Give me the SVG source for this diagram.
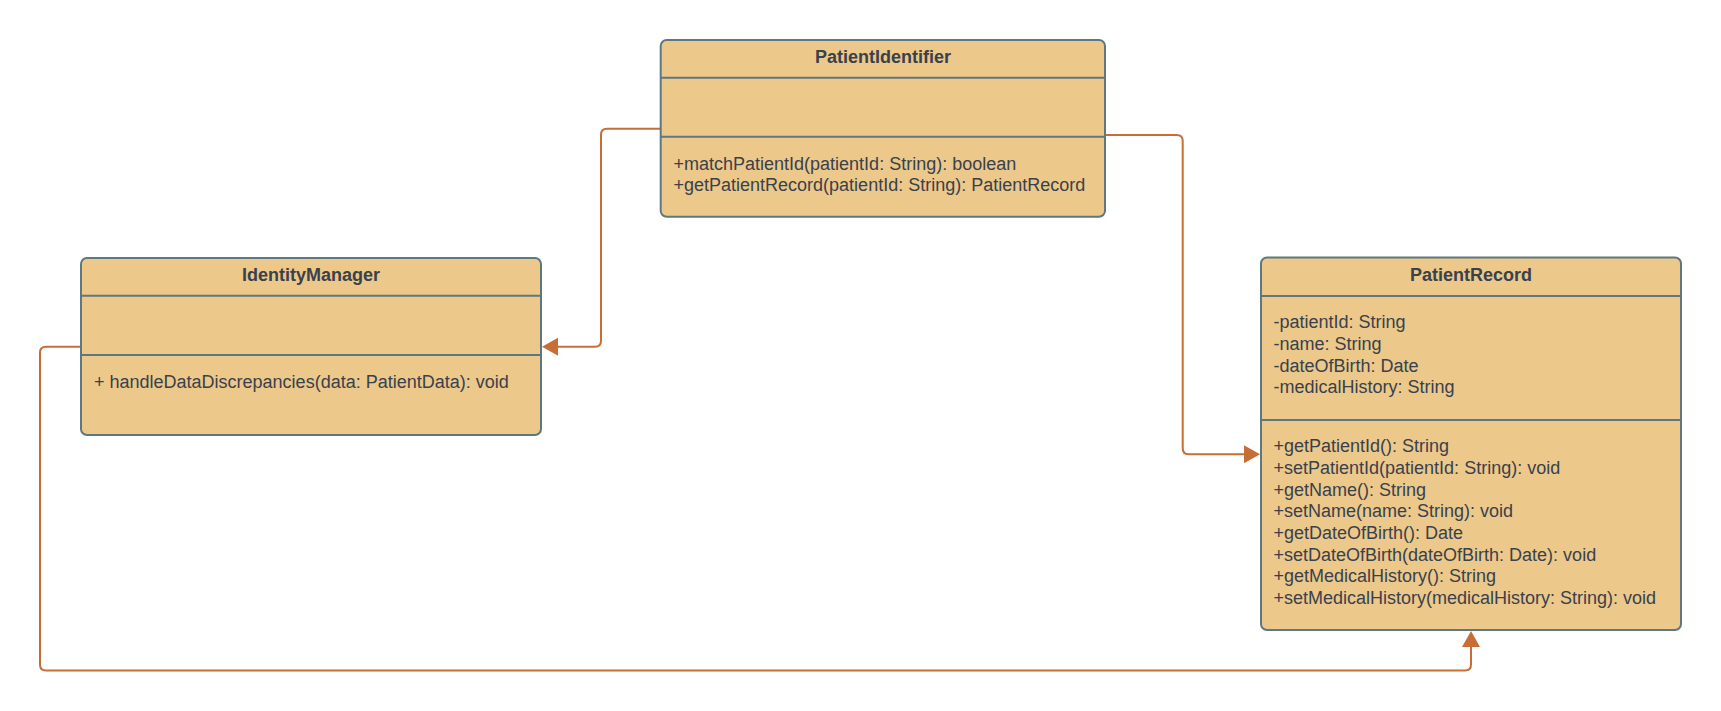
<svg xmlns="http://www.w3.org/2000/svg" width="1721" height="711" viewBox="0 0 1721 711">
  <defs>
    <style>
      .box { fill: #ECC88B; stroke: #5D7880; stroke-width: 2; }
      .div { stroke: #5D7880; stroke-width: 2; fill: none; }
      .title { font-family: "Liberation Sans", Arial, sans-serif; font-size: 18px; font-weight: bold; fill: #39414C; text-anchor: middle; }
      .txt { font-family: "Liberation Sans", Arial, sans-serif; font-size: 18px; fill: #39414C; }
      .conn { fill: none; stroke: #C76D36; stroke-width: 2; }
    </style>
    <marker id="arrow" markerUnits="userSpaceOnUse" markerWidth="17" markerHeight="19" refX="0" refY="9" orient="auto" overflow="visible">
      <path d="M0,0 L16,9 L0,18 Z" fill="#C76D36"/>
    </marker>
  </defs>
  <rect width="1721" height="711" fill="#FFFFFF"/>

  <g id="connectors">
    <path class="conn" d="M660.5,128.7 H607 Q601,128.7 601,134.7 V340.7 Q601,346.7 595,346.7 H558" marker-end="url(#arrow)"/>
    <path class="conn" d="M1105,135 H1176.7 Q1182.7,135 1182.7,141 V448.3 Q1182.7,454.3 1188.7,454.3 H1244" marker-end="url(#arrow)"/>
    <path class="conn" d="M81,346.7 H46 Q40,346.7 40,352.7 V664.5 Q40,670.5 46,670.5 H1465 Q1471,670.5 1471,664.5 V647" marker-end="url(#arrow)"/>
  </g>

  <g id="PatientIdentifier">
    <rect class="box" x="660.7" y="40" width="444.3" height="176.7" rx="6"/>
    <line class="div" x1="660.7" y1="77.7" x2="1105" y2="77.7"/>
    <line class="div" x1="660.7" y1="136.7" x2="1105" y2="136.7"/>
    <text class="title" x="883" y="63">PatientIdentifier</text>
    <text class="txt" x="673.5" y="169.8">+matchPatientId(patientId: String): boolean</text>
    <text class="txt" x="673.5" y="191.2">+getPatientRecord(patientId: String): PatientRecord</text>
  </g>

  <g id="IdentityManager">
    <rect class="box" x="81" y="258" width="460" height="177" rx="6"/>
    <line class="div" x1="81" y1="295.8" x2="541" y2="295.8"/>
    <line class="div" x1="81" y1="355" x2="541" y2="355"/>
    <text class="title" x="311" y="281.2">IdentityManager</text>
    <text class="txt" x="94" y="387.7">+ handleDataDiscrepancies(data: PatientData): void</text>
  </g>

  <g id="PatientRecord">
    <rect class="box" x="1261" y="257.5" width="420" height="372.5" rx="6"/>
    <line class="div" x1="1261" y1="296" x2="1681" y2="296"/>
    <line class="div" x1="1261" y1="420" x2="1681" y2="420"/>
    <text class="title" x="1471" y="281">PatientRecord</text>
    <text class="txt" x="1273.5" y="328.3">-patientId: String</text>
    <text class="txt" x="1273.5" y="350">-name: String</text>
    <text class="txt" x="1273.5" y="371.7">-dateOfBirth: Date</text>
    <text class="txt" x="1273.5" y="393.3">-medicalHistory: String</text>
    <text class="txt" x="1273.5" y="452.3">+getPatientId(): String</text>
    <text class="txt" x="1273.5" y="474">+setPatientId(patientId: String): void</text>
    <text class="txt" x="1273.5" y="495.7">+getName(): String</text>
    <text class="txt" x="1273.5" y="517.3">+setName(name: String): void</text>
    <text class="txt" x="1273.5" y="539">+getDateOfBirth(): Date</text>
    <text class="txt" x="1273.5" y="560.7">+setDateOfBirth(dateOfBirth: Date): void</text>
    <text class="txt" x="1273.5" y="582.3">+getMedicalHistory(): String</text>
    <text class="txt" x="1273.5" y="604">+setMedicalHistory(medicalHistory: String): void</text>
  </g>
</svg>
